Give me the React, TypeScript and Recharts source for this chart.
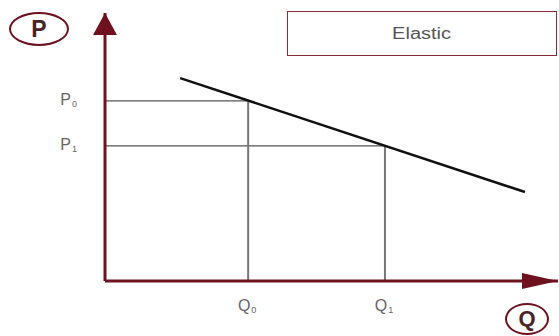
import React from 'react';
import {
  ComposedChart,
  Line,
  Scatter,
  XAxis,
  YAxis,
  ReferenceLine,
} from 'recharts';

// demand curve end points (quantity, price), domain 0..100 on both axes
const demandQ = [16.6, 92.7];
const demandP = [75.7, 33.2];

// the two marked points on the curve
const qTicks = [31.6, 61.8];
const pTicks = [67.2, 50.4];
const qLabels = ['Q', 'Q'];
const pLabels = ['P', 'P'];
const subLabels = ['0', '1'];

const demand = demandQ.map((q, i) => ({ q, p: demandP[i] }));
const xArrow = [{ q: 100, p: 0 }];
const yArrow = [{ q: 0, p: 100 }];

const MAROON = '#6e1220';
const FONT = '"Liberation Sans", Arial, sans-serif';

const QTick = (props: any) => {
  const { x, y, payload } = props;
  const i = qTicks.indexOf(payload.value);
  return (
    <text x={x - 1} y={y + 22} textAnchor="middle" fill="#666" fontSize={16} fontFamily={FONT}>
      {qLabels[i]}
      <tspan fontSize={9} dx={1} dy={2}>{subLabels[i]}</tspan>
    </text>
  );
};

const PTick = (props: any) => {
  const { x, y, payload } = props;
  const i = pTicks.indexOf(payload.value);
  return (
    <text x={x - 20} y={y + 4} textAnchor="end" fill="#666" fontSize={16} fontFamily={FONT}>
      {pLabels[i]}
      <tspan fontSize={9} dx={1} dy={2}>{subLabels[i]}</tspan>
    </text>
  );
};

const RightArrow = (props: any) => {
  const { cx, cy } = props;
  return <polygon points={`${cx},${cy} ${cx - 36},${cy - 8} ${cx - 36},${cy + 8}`} fill={MAROON} />;
};

const UpArrow = (props: any) => {
  const { cx, cy } = props;
  return <polygon points={`${cx},${cy} ${cx - 12},${cy + 22} ${cx + 12},${cy + 22}`} fill={MAROON} />;
};

const App: React.FC = () => {
  return (
    <div style={{ position: 'absolute', left: 0, top: 0, width: 559, height: 336, background: '#fff', fontFamily: FONT }}>
      <ComposedChart width={559} height={336} margin={{ top: 13, right: 1, bottom: 0, left: 0 }}>
        <XAxis
          type="number"
          dataKey="q"
          domain={[0, 100]}
          ticks={qTicks}
          height={55}
          tickLine={false}
          axisLine={{ stroke: MAROON, strokeWidth: 3 }}
          tick={<QTick />}
          interval={0}
        />
        <YAxis
          type="number"
          dataKey="p"
          domain={[0, 100]}
          ticks={pTicks}
          width={105}
          tickLine={false}
          axisLine={{ stroke: MAROON, strokeWidth: 3 }}
          tick={<PTick />}
          interval={0}
        />
        {qTicks.map((q, i) => (
          <ReferenceLine
            key={'h' + i}
            segment={[{ x: 0, y: pTicks[i] }, { x: q, y: pTicks[i] }]}
            stroke="#555"
            strokeWidth={1.3}
          />
        ))}
        {qTicks.map((q, i) => (
          <ReferenceLine
            key={'v' + i}
            segment={[{ x: q, y: 0 }, { x: q, y: pTicks[i] }]}
            stroke="#777"
            strokeWidth={2}
          />
        ))}
        <Line
          data={demand}
          dataKey="p"
          type="linear"
          stroke="#111"
          strokeWidth={2.5}
          dot={false}
          isAnimationActive={false}
        />
        <Scatter data={xArrow} dataKey="p" shape={<RightArrow />} isAnimationActive={false} />
        <Scatter data={yArrow} dataKey="p" shape={<UpArrow />} isAnimationActive={false} />
      </ComposedChart>

      <div
        style={{
          position: 'absolute', left: 9, top: 12, width: 60, height: 34, boxSizing: 'border-box',
          border: `2px solid ${MAROON}`, borderRadius: '50%', display: 'flex',
          alignItems: 'center', justifyContent: 'center', fontWeight: 'bold', fontSize: 23, color: '#4a2228',
        }}
      >
        P
      </div>
      <div
        style={{
          position: 'absolute', left: 505, top: 303, width: 44, height: 32, boxSizing: 'border-box',
          border: `2px solid ${MAROON}`, borderRadius: '50%', display: 'flex',
          alignItems: 'center', justifyContent: 'center', fontWeight: 'bold', fontSize: 22, color: '#4a2228',
        }}
      >
        Q
      </div>
      <div
        style={{
          position: 'absolute', left: 287, top: 11, width: 270, height: 45, boxSizing: 'border-box',
          border: '1.5px solid #8a2a35', display: 'flex', alignItems: 'center', justifyContent: 'center',
          color: '#555', fontSize: 16,
        }}
      >
        <span style={{ display: 'inline-block', transform: 'scaleX(1.25)' }}>Elastic</span>
      </div>
    </div>
  );
};

export default App;
